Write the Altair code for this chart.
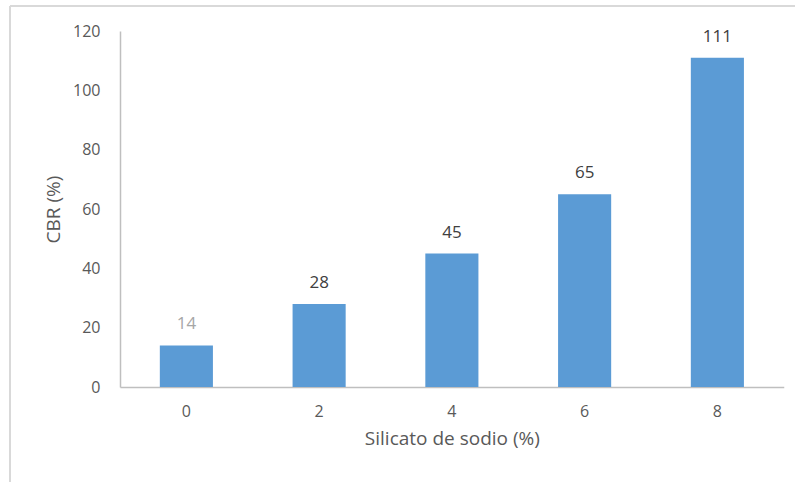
import altair as alt
import pandas as pd

# Sodium silicate dosage (%) and measured CBR (%)
silicato = ["0", "2", "4", "6", "8"]
cbr = [14, 28, 45, 65, 111]

df = pd.DataFrame({"silicato": silicato, "cbr": cbr})

FONT = "Open Sans"
TXT = "#595959"
AXIS_LINE = "#bfbfbf"
FRAME = "#d9d9d9"

x_enc = alt.X(
    "silicato:N",
    sort=silicato,
    scale=alt.Scale(paddingInner=0.6, paddingOuter=0.3),
    axis=alt.Axis(
        title="Silicato de sodio (%)",
        labelAngle=0,
        ticks=False,
        labelPadding=16,
        titlePadding=10,
        domainColor=AXIS_LINE,
        domainWidth=1.5,
    ),
)
y_enc = alt.Y(
    "cbr:Q",
    scale=alt.Scale(domain=[0, 120], nice=False),
    axis=alt.Axis(
        title="CBR (%)",
        values=[0, 20, 40, 60, 80, 100, 120],
        ticks=False,
        grid=False,
        labelPadding=20,
        titlePadding=9,
        domainColor=AXIS_LINE,
        domainWidth=1.5,
    ),
)

bars = alt.Chart(df).mark_bar(color="#5b9bd5").encode(x=x_enc, y=y_enc)

labels = alt.Chart(df).mark_text(
    dy=-21, baseline="middle", font=FONT, fontSize=17
).encode(
    x=alt.X("silicato:N", sort=silicato),
    y="cbr:Q",
    text="cbr:Q",
    color=alt.condition(
        alt.datum.silicato == "0", alt.value("#a6a6a6"), alt.value("#404040")
    ),
)

# Outer chart frame (top and left edges)
frame_top = alt.Chart(df).mark_rule(color=FRAME, strokeWidth=2).encode(
    x=alt.value(-110), x2=alt.value(700), y=alt.value(-25)
)
frame_left = alt.Chart(df).mark_rule(color=FRAME, strokeWidth=2).encode(
    x=alt.value(-110), y=alt.value(-25), y2=alt.value(500)
)

chart = (
    alt.layer(frame_top, frame_left, bars, labels)
    .properties(
        width=663.75,
        height=356,
        padding={"left": 120, "top": 31, "right": 11, "bottom": 95},
        autosize=alt.AutoSizeParams(type="none"),
        background="white",
    )
    .configure_view(stroke=None)
    .configure_axis(
        labelFont=FONT,
        labelFontSize=16,
        labelColor=TXT,
        titleFont=FONT,
        titleFontSize=19,
        titleColor=TXT,
        titleFontWeight="normal",
    )
)

chart.save("out.html", embed_options={"renderer": "svg", "actions": False})
